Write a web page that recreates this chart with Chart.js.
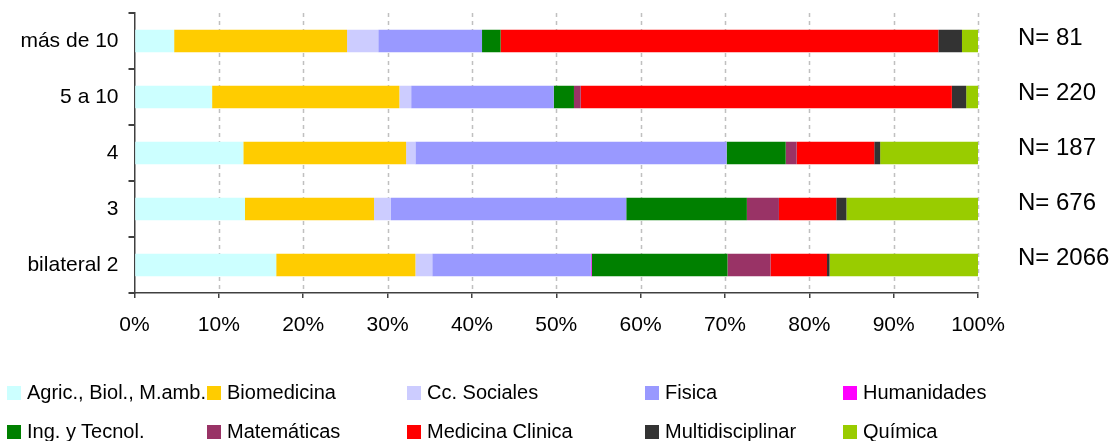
<!DOCTYPE html>
<html>
<head>
<meta charset="utf-8">
<script src="https://cdn.jsdelivr.net/npm/chart.js@4"></script>
<style>
    body { margin: 0; background: #fff; }
    #wrap { position: relative; width: 1113px; height: 441px; }
    #legend { position: absolute; left: 0; top: 0; width: 1113px; height: 441px; pointer-events: none;
              font-family: "Liberation Sans", Arial, sans-serif; font-size: 20px; color: #000; }
    .item { position: absolute; white-space: nowrap; line-height: 20px; }
    .box { display: inline-block; width: 14px; height: 14px; margin-right: 6px; vertical-align: -1px; }
</style>
</head>
<body>
<div id="wrap">
    <canvas id="chart"></canvas>
    <div id="legend"></div>
</div>
<script>
// categories, top to bottom
const categories = ['más de 10', '5 a 10', '4', '3', 'bilateral 2'];
const totals = [81, 220, 187, 676, 2066];
const xTicks = [0, 10, 20, 30, 40, 50, 60, 70, 80, 90, 100];

// share of each field (%) per category
const agric        = [4.7, 9.2, 12.9, 13.1, 16.8];
const biomedicina  = [20.5, 22.2, 19.3, 15.3, 16.5];
const ccSociales   = [3.7, 1.4, 1.1, 2.0, 2.0];
const fisica       = [12.3, 16.9, 36.9, 27.9, 18.8];
const humanidades  = [0, 0, 0, 0, 0.1];
const ingTecnol    = [2.2, 2.4, 7.0, 14.3, 16.1];
const matematicas  = [0, 0.8, 1.3, 3.8, 5.1];
const medicina     = [51.9, 44.0, 9.2, 6.8, 6.7];
const multidisc    = [2.8, 1.7, 0.7, 1.2, 0.3];
const quimica      = [1.9, 1.4, 11.6, 15.6, 17.6];

const seriesNames = ['Agric., Biol., M.amb.', 'Biomedicina', 'Cc. Sociales', 'Fisica', 'Humanidades',
                     'Ing. y Tecnol.', 'Matemáticas', 'Medicina Clinica', 'Multidisciplinar', 'Química'];
const seriesData = [agric, biomedicina, ccSociales, fisica, humanidades,
                    ingTecnol, matematicas, medicina, multidisc, quimica];
const seriesColors = ['#CCFFFF', '#FFCC00', '#CCCCFF', '#9999FF', '#FF00FF',
                      '#008000', '#993366', '#FF0000', '#333333', '#99CC00'];

const FONT = '"Liberation Sans", Arial, sans-serif';

// dashed vertical grid lines behind the bars
const dashedGridPlugin = {
    id: 'dashedGrid',
    beforeDatasetsDraw(chart) {
        const ctx = chart.ctx;
        const area = chart.chartArea;
        const xScale = chart.scales.x;
        ctx.save();
        ctx.strokeStyle = '#c0c0c0';
        ctx.lineWidth = 1.5;
        ctx.setLineDash([4, 4]);
        xTicks.forEach(v => {
            if (v === 0) return;
            const x = Math.round(xScale.getPixelForValue(v)) + 0.5;
            ctx.beginPath();
            ctx.moveTo(x, area.top);
            ctx.lineTo(x, area.bottom);
            ctx.stroke();
        });
        ctx.restore();
    }
};

// "N= ..." labels to the right of each bar
const totalsPlugin = {
    id: 'totals',
    afterDraw(chart) {
        const ctx = chart.ctx;
        const yScale = chart.scales.y;
        ctx.save();
        ctx.font = '24px ' + FONT;
        ctx.fillStyle = '#000';
        ctx.textAlign = 'left';
        ctx.textBaseline = 'middle';
        totals.forEach((n, i) => {
            ctx.fillText('N= ' + n, chart.chartArea.right + 40, yScale.getPixelForValue(i) - 3 - i);
        });
        ctx.restore();
    }
};

const datasets = seriesNames.map((name, i) => ({
    label: name,
    data: seriesData[i],
    backgroundColor: seriesColors[i],
    borderWidth: 0,
    barPercentage: 0.4,
    categoryPercentage: 1
}));

new Chart(document.getElementById('chart'), {
    type: 'bar',
    data: { labels: categories, datasets: datasets },
    options: {
        indexAxis: 'y',
        responsive: true,
        maintainAspectRatio: false,
        animation: false,
        layout: { padding: { left: 0, right: 135, top: 13, bottom: 106 } },
        plugins: {
            legend: { display: false },
            tooltip: { enabled: false }
        },
        scales: {
            x: {
                stacked: true,
                min: 0,
                max: 100,
                afterBuildTicks: s => { s.ticks = xTicks.map(v => ({ value: v })); },
                afterFit: s => { s.height = 42; },
                ticks: {
                    callback: v => v + '%',
                    color: '#000',
                    font: { family: FONT, size: 21 },
                    padding: 15,
                    maxRotation: 0
                },
                grid: {
                    drawOnChartArea: false,
                    tickColor: '#404040',
                    tickLength: 5,
                    lineWidth: 1.5
                },
                border: { color: '#404040', width: 1.5 }
            },
            y: {
                stacked: true,
                afterFit: s => { s.width = 134.5; s.paddingTop = 0; s.paddingBottom = 0; },
                ticks: {
                    color: '#000',
                    font: { family: FONT, size: 21 },
                    padding: 10
                },
                grid: {
                    offset: true,
                    drawOnChartArea: false,
                    tickColor: '#404040',
                    tickLength: 6,
                    lineWidth: 2
                },
                border: { color: '#404040', width: 1.5 }
            }
        }
    },
    plugins: [dashedGridPlugin, totalsPlugin]
});

// legend in the reference's grid
const legendCols = [7, 207, 407, 645, 843];
const legendRows = [382, 421];
const legend = document.getElementById('legend');
seriesNames.forEach((name, i) => {
    const item = document.createElement('div');
    item.className = 'item';
    item.style.left = legendCols[i % 5] + 'px';
    item.style.top = legendRows[Math.floor(i / 5)] + 'px';
    item.innerHTML = '<span class="box" style="background:' + seriesColors[i] + '"></span>' + name;
    legend.appendChild(item);
});
</script>
</body>
</html>
